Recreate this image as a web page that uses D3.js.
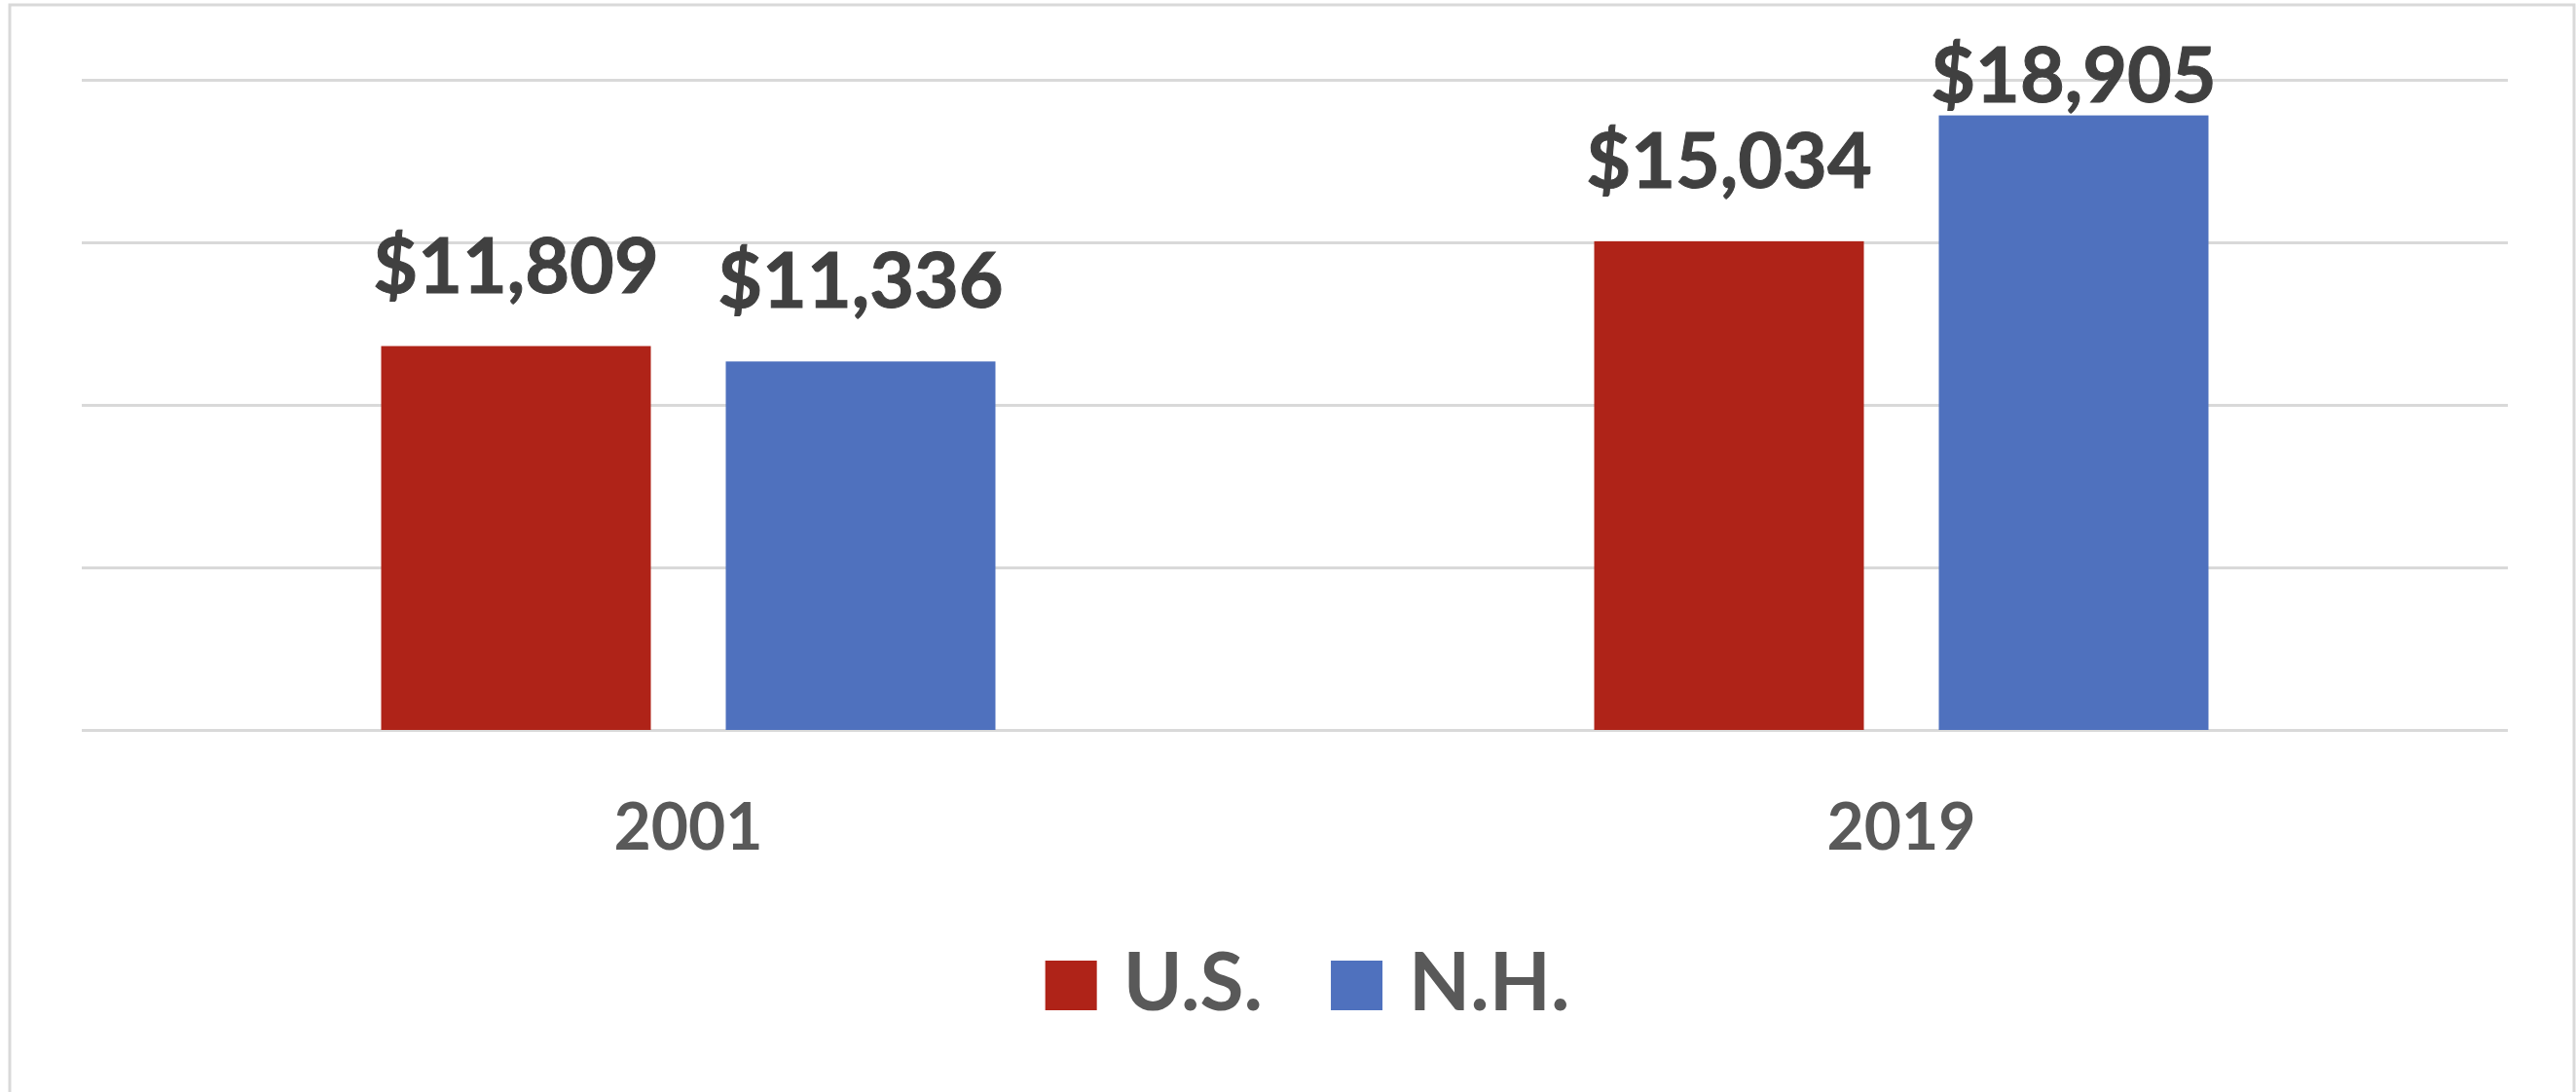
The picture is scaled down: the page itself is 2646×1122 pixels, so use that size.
<!DOCTYPE html>
<html>
<head>
<meta charset="utf-8">
<script src="https://cdn.jsdelivr.net/npm/d3@7"></script>
<style>
  html, body { margin: 0; padding: 0; background: #fff; }
  svg { display: block; }
  text { font-family: Lato, "Open Sans", sans-serif; font-weight: bold; }
</style>
</head>
<body>
<div id="chart"></div>
<script>
// data
const years = ['2001', '2019'];
const seriesNames = ['U.S.', 'N.H.'];
const usValues = [11809, 15034];
const nhValues = [11336, 18905];
const yTicks = [0, 5000, 10000, 15000, 20000];
const seriesColors = ['#AF2318', '#4F71BE'];

class GroupedBarChart {
    constructor(container) {
        this.container = container;
        this.width = 2646;
        this.height = 1122;
        this.margin = { top: 82, right: 70, bottom: 372, left: 84 };
        this.init();
    }

    init() {
        d3.select(this.container).html("");
        this.svg = d3.select(this.container)
            .append("svg")
            .attr("width", this.width)
            .attr("height", this.height);
    }

    processData() {
        return years.map((yr, i) => ({
            year: yr,
            values: [
                { name: seriesNames[0], value: usValues[i] },
                { name: seriesNames[1], value: nhValues[i] }
            ]
        }));
    }

    render() {
        const data = this.processData();
        const width = this.width - this.margin.left - this.margin.right;
        const height = this.height - this.margin.top - this.margin.bottom;

        // chart border
        this.svg.append("rect")
            .attr("x", 10).attr("y", 5)
            .attr("width", this.width - 12).attr("height", this.height + 10)
            .attr("fill", "#fff")
            .attr("stroke", "#d9d9d9")
            .attr("stroke-width", 3);

        const g = this.svg.append("g")
            .attr("transform", `translate(${this.margin.left},${this.margin.top})`);

        // scales
        const x0 = d3.scaleBand()
            .domain(years)
            .range([0, width])
            .paddingInner(0.4936)
            .paddingOuter(0.2468);

        const x1 = d3.scaleBand()
            .domain(seriesNames)
            .range([0, x0.bandwidth()])
            .paddingInner(0.2175)
            .paddingOuter(0);

        const y = d3.scaleLinear()
            .domain([0, 20000])
            .range([height, 0]);

        const color = d3.scaleOrdinal()
            .domain(seriesNames)
            .range(seriesColors);

        // gridlines
        const grid = g.append("g")
            .call(d3.axisLeft(y).tickValues(yTicks).tickSize(-width).tickFormat(""));
        grid.select(".domain").remove();
        grid.selectAll(".tick line")
            .attr("stroke", "#d9d9d9")
            .attr("stroke-width", 3);

        // bars
        const groups = g.selectAll(".year-group")
            .data(data)
            .join("g")
            .attr("class", "year-group")
            .attr("transform", d => `translate(${x0(d.year)},0)`);

        groups.selectAll("rect")
            .data(d => d.values)
            .join("rect")
            .attr("x", d => x1(d.name))
            .attr("y", d => y(d.value))
            .attr("width", x1.bandwidth())
            .attr("height", d => height - y(d.value))
            .attr("fill", d => color(d.name));

        // value labels (pushed down if too close to the top)
        groups.selectAll(".val-label")
            .data(d => d.values)
            .join("text")
            .attr("class", "val-label")
            .attr("x", d => x1(d.name) + x1.bandwidth() / 2)
            .attr("y", d => Math.max(y(d.value) - 55, 23))
            .attr("text-anchor", "middle")
            .attr("fill", "#404040")
            .attr("stroke", "#404040")
            .attr("stroke-width", 1)
            .style("font-size", "79px")
            .text(d => "$" + d3.format(",")(d.value));

        // category axis labels
        const xAxis = g.append("g")
            .attr("transform", `translate(0,${height})`)
            .call(d3.axisBottom(x0).tickSize(0).tickPadding(0));
        xAxis.select(".domain").remove();
        xAxis.selectAll("text")
            .attr("dy", null)
            .attr("y", 123)
            .attr("fill", "#595959")
            .style("font-size", "66px");

        // legend
        const legend = this.svg.append("g");
        let cursor = 0;
        seriesNames.forEach((name, i) => {
            const item = legend.append("g").attr("transform", `translate(${cursor},0)`);
            item.append("rect")
                .attr("x", 0).attr("y", -51)
                .attr("width", 53).attr("height", 51)
                .attr("fill", color(name));
            const t = item.append("text")
                .attr("x", 80).attr("y", 0)
                .attr("fill", "#595959")
                .style("font-size", "82px")
                .text(name);
            cursor += 80 + t.node().getComputedTextLength() + 70;
        });
        const legendWidth = cursor - 70;
        legend.attr("transform", `translate(${1343 - legendWidth / 2},1038)`);
    }
}

const chart = new GroupedBarChart("#chart");
chart.render();
</script>
</body>
</html>
